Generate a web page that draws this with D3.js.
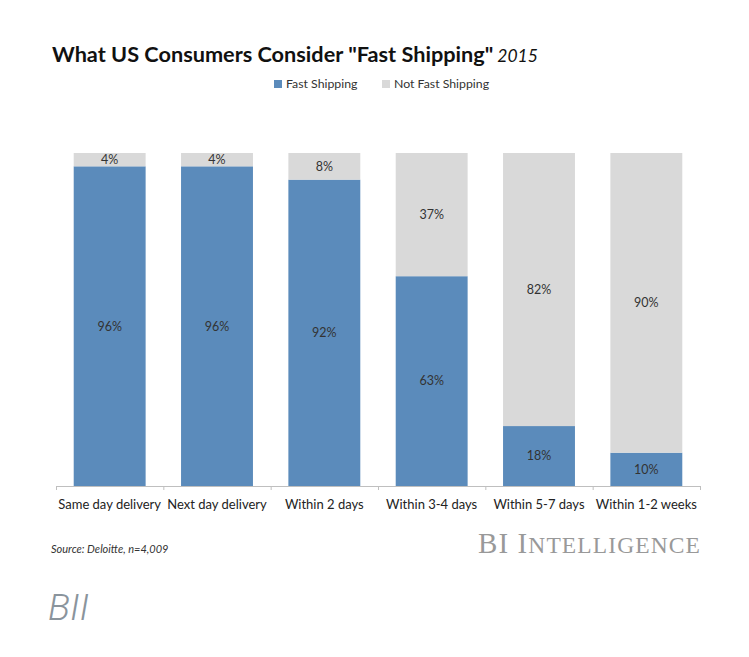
<!DOCTYPE html>
<html>
<head>
<meta charset="utf-8">
<script src="https://cdn.jsdelivr.net/npm/d3@7"></script>
<style>
  body { margin: 0; background: #fff; }
  text { font-family: Lato, "Open Sans", sans-serif; }
</style>
</head>
<body>
<svg id="chart"></svg>
<script>
// ---- data ----
var categories = ["Same day delivery", "Next day delivery", "Within 2 days",
                  "Within 3-4 days", "Within 5-7 days", "Within 1-2 weeks"];
var fastShipping    = [96, 96, 92, 63, 18, 10];
var notFastShipping = [4, 4, 8, 37, 82, 90];
var seriesNames = ["Fast Shipping", "Not Fast Shipping"];
var seriesColors = ["#5b8bbb", "#d9d9d9"];

var width = 749, height = 657;
var svg = d3.select("#chart").attr("width", width).attr("height", height);

// plot area
var plotLeft = 56, plotRight = 700, plotTop = 153, plotBottom = 486;

var x = d3.scaleBand().domain(categories).range([plotLeft, plotRight]).paddingInner(0.33).paddingOuter(0.165);
var y = d3.scaleLinear().domain([0, 100]).range([plotBottom, plotTop]);

var rows = categories.map(function(c, i) {
  return { cat: c, fast: fastShipping[i], notFast: notFastShipping[i] };
});
var stacked = d3.stack().keys(["fast", "notFast"])(rows);

// bars
var layers = svg.selectAll("g.layer").data(stacked).enter().append("g")
  .attr("class", "layer")
  .attr("fill", function(d, i) { return seriesColors[i]; });

layers.selectAll("rect").data(function(d) { return d; }).enter().append("rect")
  .attr("x", function(d) { return x(d.data.cat); })
  .attr("y", function(d) { return y(d[1]); })
  .attr("width", x.bandwidth())
  .attr("height", function(d) { return y(d[0]) - y(d[1]); });

// value labels in the middle of each segment
layers.selectAll("text").data(function(d) { return d; }).enter().append("text")
  .attr("x", function(d) { return x(d.data.cat) + x.bandwidth() / 2; })
  .attr("y", function(d) { return (y(d[0]) + y(d[1])) / 2; })
  .attr("dy", "0.35em")
  .attr("text-anchor", "middle")
  .attr("font-size", 12.5)
  .attr("fill", "#333")
  .text(function(d) { return (d[1] - d[0]) + "%"; });

// axis line + ticks at band boundaries
var step = x.step();
svg.append("line")
  .attr("x1", plotLeft).attr("x2", plotRight)
  .attr("y1", plotBottom + 0.5).attr("y2", plotBottom + 0.5)
  .attr("stroke", "#bfbfbf");
svg.selectAll("line.tick").data(d3.range(categories.length + 1)).enter().append("line")
  .attr("class", "tick")
  .attr("x1", function(i) { return plotLeft + i * step + 0.5; })
  .attr("x2", function(i) { return plotLeft + i * step + 0.5; })
  .attr("y1", plotBottom).attr("y2", plotBottom + 4)
  .attr("stroke", "#bfbfbf");

// category labels
svg.selectAll("text.cat").data(categories).enter().append("text")
  .attr("class", "cat")
  .attr("x", function(c) { return x(c) + x.bandwidth() / 2; })
  .attr("y", 504)
  .attr("dy", "0.35em")
  .attr("text-anchor", "middle")
  .attr("font-size", 13)
  .attr("fill", "#222")
  .text(function(c) { return c; });

// title
var title = svg.append("text").attr("x", 52).attr("y", 62)
  .attr("font-size", 21.7).attr("fill", "#111");
title.append("tspan").attr("font-weight", "bold").text('What US Consumers Consider "Fast Shipping"');
title.append("tspan").attr("font-style", "italic").attr("dx", 4).attr("font-size", 17.5).text("2015");

// legend
var legendX = [274, 382];
var legend = svg.selectAll("g.legend").data(seriesNames).enter().append("g")
  .attr("class", "legend")
  .attr("transform", function(d, i) { return "translate(" + legendX[i] + ",84)"; });
legend.append("rect").attr("x", 0).attr("y", -4).attr("width", 8).attr("height", 8)
  .attr("fill", function(d, i) { return seriesColors[i]; });
legend.append("text").attr("x", 12).attr("dy", "0.35em")
  .attr("font-size", 12.3).attr("fill", "#333")
  .text(function(d) { return d; });

// footer
svg.append("text").attr("x", 51).attr("y", 549).attr("dy", "0.35em")
  .attr("font-size", 11).attr("font-style", "italic").attr("fill", "#333")
  .text("Source: Deloitte, n=4,009");

// brand mark, drawn as caps + smaller caps
var brand = svg.append("text").attr("x", 701).attr("y", 553)
  .attr("text-anchor", "end")
  .style("font-family", "'Liberation Serif', 'DejaVu Serif', serif")
  .attr("fill", "#999")
  .attr("letter-spacing", 1.1);
brand.append("tspan").attr("font-size", 29).text("BI I");
brand.append("tspan").attr("font-size", 23.5).text("NTELLIGENCE");

svg.append("text").attr("x", 48).attr("y", 620)
  .style("font-family", "Roboto, sans-serif")
  .attr("font-weight", 300).attr("font-style", "italic")
  .attr("font-size", 37).attr("fill", "#8a949c")
  .text("BII");
</script>
</body>
</html>
